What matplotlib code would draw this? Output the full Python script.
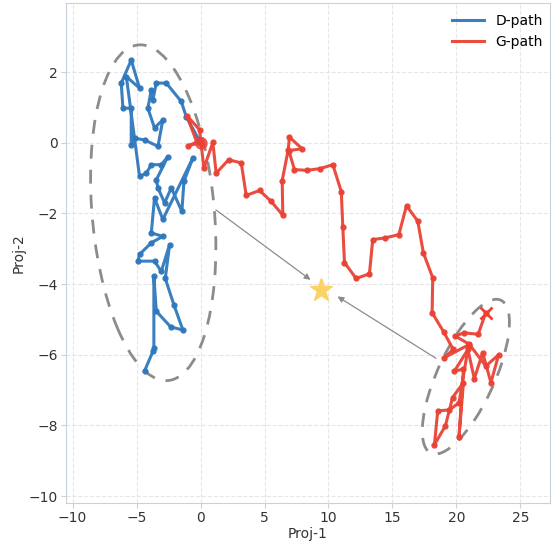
import numpy as np
import matplotlib.pyplot as plt
from matplotlib.patches import Ellipse
from matplotlib.lines import Line2D

# D-path (blue) points
d_x = [0.00, -1.12, -1.51, -2.68, -3.46, -3.73, -3.85, -4.12, -3.60, -2.95,
       -3.33, -4.38, -5.16, -5.42, -5.42, -6.07, -6.20, -5.42, -4.77, -5.80,
       -4.77, -4.24, -3.85, -3.07, -2.55, -3.46, -3.33, -2.81, -2.29, -1.46,
       -1.30, -0.60, -2.95, -3.60, -3.85, -2.95, -3.85, -4.77, -4.90, -3.60,
       -3.07, -2.42, -2.76, -2.09, -1.38, -2.34, -3.46, -3.65, -3.65, -3.72,
       -4.38]
d_y = [0.00, 0.74, 1.17, 1.69, 1.69, 1.21, 1.50, 0.98, 0.42, 0.65,
       -0.10, 0.08, 0.13, -0.06, 0.98, 0.98, 1.69, 2.34, 1.55, 1.87,
       -0.95, -0.86, -0.62, -0.62, -0.39, -1.05, -1.28, -1.70, -1.28, -1.94,
       -1.09, -0.43, -2.17, -1.56, -2.55, -2.65, -2.83, -3.16, -3.35, -3.35,
       -3.64, -2.88, -3.84, -4.58, -5.30, -5.21, -4.77, -3.78, -5.80, -5.90,
       -6.46]

# G-path (red) points
g_x = [0.00, -0.95, -0.30, -1.07, -0.08, 0.26, 0.96, 1.22, 2.19, 3.18,
       3.57, 4.61, 5.52, 6.43, 6.38, 6.85, 6.95, 7.94, 6.90, 7.34,
       8.33, 9.35, 10.34, 11.00, 11.12, 11.25, 12.16, 13.20, 13.46, 14.45,
       15.50, 16.10, 16.98, 17.42, 18.15, 18.10, 19.00, 19.75, 19.06, 20.95,
       20.20, 19.45, 18.54, 18.28, 19.14, 19.70, 20.55, 20.20, 20.55, 19.85,
       20.90, 21.40, 22.05, 22.70, 23.30, 22.30, 21.00, 19.90, 20.60, 21.70,
       22.30]
g_y = [0.00, -0.08, 0.02, 0.77, 0.37, -0.72, 0.01, -0.86, -0.48, -0.57,
       -1.49, -1.35, -1.66, -2.05, -1.07, -0.20, 0.16, -0.17, -0.22, -0.76,
       -0.78, -0.73, -0.62, -1.38, -2.38, -3.39, -3.84, -3.71, -2.74, -2.69,
       -2.60, -1.78, -2.22, -3.12, -3.82, -4.81, -5.35, -5.85, -6.08, -5.72,
       -7.36, -7.56, -7.59, -8.55, -8.01, -7.21, -6.79, -8.34, -6.41, -6.46,
       -5.85, -6.68, -5.94, -6.79, -6.00, -6.32, -5.70, -5.47, -5.38, -5.42,
       -4.81]

target = (9.45, -4.18)

# cluster ellipses: center, width, height, angle
d_ell = ((-3.7, -1.98), 10.6, 8.6, -40.8)
g_ell = ((20.74, -6.62), 7.6, 2.8, 28.5)
arrow_from = [(1.2, -1.9), (18.4, -6.1)]
arrow_to = [(8.6, -3.88), (10.7, -4.35)]

blue = '#2f78bd'
red = '#ea4235'
edge = '#c9d1db'

fig = plt.figure(figsize=(5.52, 5.41), dpi=100)
ax = fig.add_axes([0.12, 0.07, 0.876, 0.924])

ax.grid(True, ls='--', lw=0.8, color='#e6e6e6', zorder=0)
for s in ax.spines.values():
    s.set_color(edge)
ax.tick_params(colors='#333333', labelsize=10, length=3.5, pad=2.5, color=edge)

ax.plot(d_x, d_y, '-o', color=blue, lw=2.2, ms=3.5, alpha=0.95, zorder=3)
ax.plot(g_x, g_y, '-o', color=red, lw=2.2, ms=3.5, alpha=0.95, zorder=3)
ax.plot(g_x[0], g_y[0], 'o', color=red, ms=8, alpha=0.8, zorder=4)
ax.plot(g_x[-1], g_y[-1], 'x', color=red, ms=8, mew=2, zorder=4)

for (c, w, h, a) in (d_ell, g_ell):
    ax.add_patch(Ellipse(c, w, h, angle=a, fill=False, ls=(0, (5, 4)), lw=2,
                         color='#8c8c8c', zorder=2))

for p0, p1 in zip(arrow_from, arrow_to):
    ax.annotate('', xy=p1, xytext=p0,
                arrowprops=dict(arrowstyle='-|>', color='#8c8c8c', lw=0.9,
                                mutation_scale=9, shrinkA=0, shrinkB=0), zorder=2)

ax.plot(*target, marker='*', ms=17, color='#fbd266', mec='#fbd266', zorder=5)

ax.set_xlim(-10.5, 27.3)
ax.set_ylim(-10.2, 3.95)
ax.set_xticks([-10, -5, 0, 5, 10, 15, 20, 25])
ax.set_yticks([-10, -8, -6, -4, -2, 0, 2])
ax.set_xlabel('Proj-1', fontsize=10, color='#333333', labelpad=1)
ax.set_ylabel('Proj-2', fontsize=10, color='#333333', labelpad=2)

handles = [Line2D([], [], color=blue, lw=2.2, alpha=0.95),
           Line2D([], [], color=red, lw=2.2, alpha=0.95)]
ax.legend(handles, ['D-path', 'G-path'], loc='upper right', frameon=False,
          fontsize=10, handlelength=2.3, borderaxespad=0.0, borderpad=0.5,
          bbox_to_anchor=(1.0, 0.993))

fig.savefig('out.png', dpi=100)
